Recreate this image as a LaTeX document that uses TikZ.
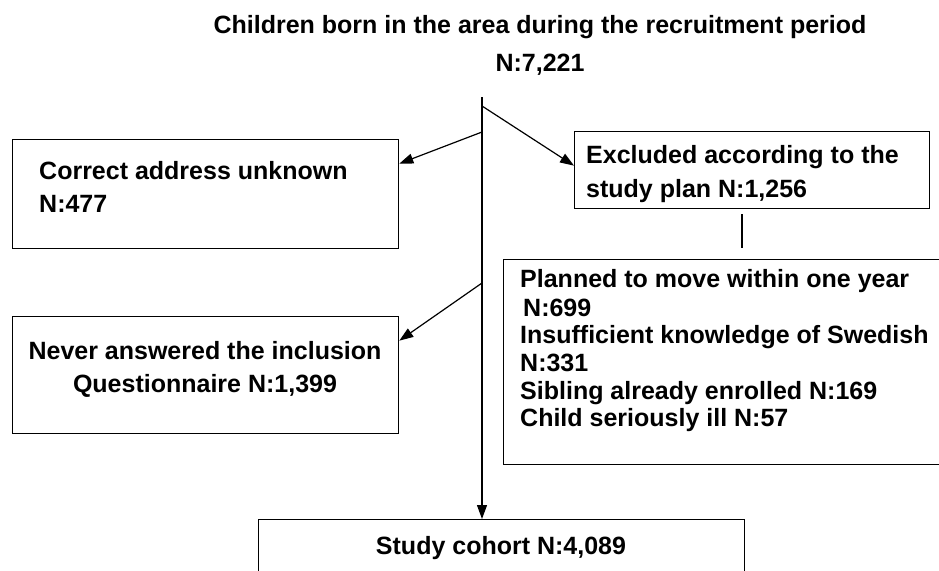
\documentclass[tikz,border=0pt]{standalone}
\usepackage{fontspec}
\setmainfont{Liberation Sans}
\usetikzlibrary{arrows.meta}
\begin{document}
\begin{tikzpicture}[x=1pt,y=-1pt,
  box/.style={draw, line width=1.3pt, inner sep=0pt, anchor=north west},
  txt/.style={font=\fontsize{25}{28}\selectfont\bfseries, inner sep=0pt, anchor=base west},
  ctxt/.style={txt, anchor=base},
  conn/.style={line width=1.2pt},
  arr/.style={conn, -{Triangle[length=14pt,width=10pt]}}]
\useasboundingbox (0,0) rectangle (939,570);
\clip (0,0) rectangle (939,570);
% title
\node[ctxt] (title1) at (540,33) {Children born in the area during the recruitment period};
\node[ctxt] (title2) at (540,71) {N:7,221};
% boxes
\node[box, minimum width=386pt, minimum height=109pt] (addr) at (12,139) {};
\node[box, minimum width=355pt, minimum height=77pt] (excl) at (574,131) {};
\node[box, minimum width=386pt, minimum height=117pt] (never) at (12,316) {};
\node[box, minimum width=460pt, minimum height=205pt] (reasons) at (503,259) {};
\node[box, minimum width=486pt, minimum height=90pt] (cohort) at (258,519) {};
% texts
\node[txt] (addr1) at (39,179) {Correct address unknown};
\node[txt] (addr2) at (39,212) {N:477};
\node[txt] (excl1) at (586,163) {Excluded according to the};
\node[txt] (excl2) at (586,197) {study plan N:1,256};
\node[ctxt] (never1) at (205,359) {Never answered the inclusion};
\node[ctxt] (never2) at (205,392) {Questionnaire N:1,399};
\node[txt] (r1) at (520,287) {Planned to move within one year};
\node[txt] (r2) at (523,316) {N:699};
\node[txt] (r3) at (520,343) {Insufficient knowledge of Swedish};
\node[txt] (r4) at (520,371) {N:331};
\node[txt] (r5) at (520,399) {Sibling already enrolled N:169};
\node[txt] (r6) at (520,426) {Child seriously ill N:57};
\node[ctxt] (coh1) at (501,554) {Study cohort N:4,089};
% connectors
\coordinate (top) at (482,97);
\coordinate (b1) at (482,106);
\coordinate (b2) at (482,132);
\coordinate (b3) at (482,283);
\coordinate (s1) at (742,214);
\coordinate (s2) at (742,248);
\draw[arr] (top) -- (top |- cohort.north);
\draw[arr] (b1) -- ([yshift=4.5pt]excl.west);
\draw[arr] (b2) -- ([yshift=30.5pt]addr.east);
\draw[arr] (b3) -- ([yshift=34.5pt]never.east);
\draw[conn] (s1) -- (s2);
\end{tikzpicture}
\end{document}
